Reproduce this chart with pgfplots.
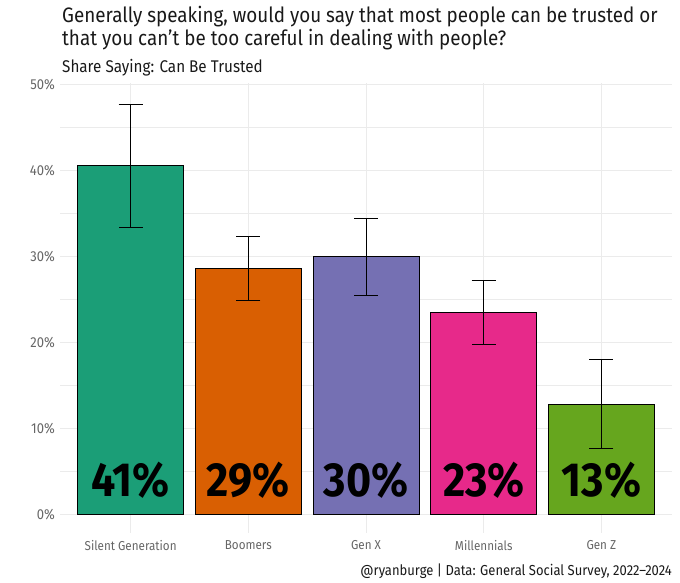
\documentclass[border=0pt]{standalone}
\usepackage{fontspec}
\setmainfont{Fira Sans}[FakeStretch=0.9]
\usepackage{pgfplots}
\pgfplotsset{compat=1.18}
\definecolor{c1}{HTML}{1B9E77}
\definecolor{c2}{HTML}{D95F02}
\definecolor{c3}{HTML}{7570B3}
\definecolor{c4}{HTML}{E7298A}
\definecolor{c5}{HTML}{66A61E}
\definecolor{gridc}{HTML}{EBEBEB}
\definecolor{tickc}{HTML}{666666}
\begin{document}
\begin{tikzpicture}
\useasboundingbox (0,0) rectangle (680bp,583bp);
\begin{axis}[
  at={(60bp,50bp)}, anchor=south west,
  width=612bp, height=450bp, scale only axis,
  xmin=0.4, xmax=5.6, ymin=-2.2, ymax=50.2,
  axis line style={draw=none},
  major tick length=0pt, minor tick length=0pt,
  xtick={1,2,3,4,5},
  xticklabels={Silent Generation,Boomers,Gen X,Millennials,Gen Z},
  ytick={0,10,20,30,40,50},
  minor ytick={5,15,25,35,45},
  yticklabel={\pgfmathprintnumber{\tick}\%},
  /pgf/number format/assume math mode=true,
  xmajorgrids, ymajorgrids, yminorgrids,
  major grid style={gridc, line width=0.7pt},
  minor grid style={gridc, line width=0.4pt},
  yticklabel style={font=\fontsize{14.5}{16}\selectfont, text=tickc, inner sep=0pt, xshift=-5bp},
  xticklabel style={font=\fontsize{13}{15}\selectfont, text=tickc, inner sep=0pt, yshift=-7bp},
  every axis plot/.append style={
    error bars/error mark=|,
    error bars/error bar style={black, line width=0.9pt},
    error bars/error mark options={black, line width=0.9pt, mark size=12bp}},
]
\addplot[ybar, bar width=0.9, bar shift=0pt, fill=c1, draw=black, line width=0.8pt,
  error bars/.cd, y dir=both, y explicit]
  coordinates {(1,40.6) += (0,7.1) -= (0,7.2)};
\addplot[ybar, bar width=0.9, bar shift=0pt, fill=c2, draw=black, line width=0.8pt,
  error bars/.cd, y dir=both, y explicit]
  coordinates {(2,28.6) += (0,3.7) -= (0,3.7)};
\addplot[ybar, bar width=0.9, bar shift=0pt, fill=c3, draw=black, line width=0.8pt,
  error bars/.cd, y dir=both, y explicit]
  coordinates {(3,30.0) += (0,4.4) -= (0,4.5)};
\addplot[ybar, bar width=0.9, bar shift=0pt, fill=c4, draw=black, line width=0.8pt,
  error bars/.cd, y dir=both, y explicit]
  coordinates {(4,23.5) += (0,3.7) -= (0,3.8)};
\addplot[ybar, bar width=0.9, bar shift=0pt, fill=c5, draw=black, line width=0.8pt,
  error bars/.cd, y dir=both, y explicit]
  coordinates {(5,12.8) += (0,5.2) -= (0,5.2)};
\addplot[draw=none, mark=none, point meta=explicit symbolic,
  nodes near coords,
  every node near coord/.append style={anchor=center, inner sep=0pt,
    font=\fontsize{48}{52}\selectfont\bfseries, text=black}]
  coordinates {(1,4)[41\%] (2,4)[29\%] (3,4)[30\%] (4,4)[23\%] (5,4)[13\%]};
\end{axis}
\node[anchor=base west, inner sep=0pt, font=\fontsize{21}{24}\selectfont, text=black!90]
  at (62bp,560bp) {Generally speaking, would you say that most people can be trusted or};
\node[anchor=base west, inner sep=0pt, font=\fontsize{21}{24}\selectfont, text=black!90]
  at (62bp,537bp) {that you can't be too careful in dealing with people?};
\node[anchor=base west, inner sep=0pt, font=\fontsize{17}{20}\selectfont, text=black!90]
  at (62bp,510bp) {Share Saying: Can Be Trusted};
\node[anchor=base east, inner sep=0pt, font=\fontsize{14.5}{16}\selectfont, text=black!90]
  at (672bp,8bp) {@ryanburge | Data: General Social Survey, 2022--2024};
\end{tikzpicture}
\end{document}
